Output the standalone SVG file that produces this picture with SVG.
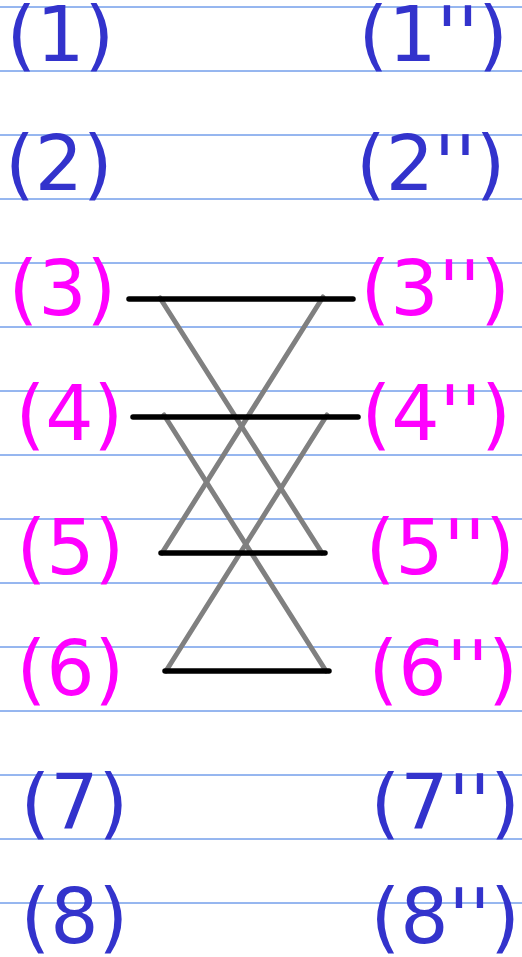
<svg xmlns="http://www.w3.org/2000/svg" width="522" height="957" viewBox="0 0 522 957">
<style>
.rule{stroke:#2f6fe0;stroke-width:1}
.lbl{font-family:"DejaVu Sans",sans-serif;font-size:76px}
.blue{fill:#3333cc}
.mag{fill:#ff00ff}
.bar{stroke:#000;stroke-width:5.5;stroke-linecap:round}
.diag{stroke:#808080;stroke-width:5;stroke-linecap:round}
</style>
<rect width="522" height="957" fill="#fff"/>
<g id="rules">
<line class="rule" x1="0" y1="7" x2="522" y2="7"/>
<line class="rule" x1="0" y1="71" x2="522" y2="71"/>
<line class="rule" x1="0" y1="135" x2="522" y2="135"/>
<line class="rule" x1="0" y1="199" x2="522" y2="199"/>
<line class="rule" x1="0" y1="263" x2="522" y2="263"/>
<line class="rule" x1="0" y1="327" x2="522" y2="327"/>
<line class="rule" x1="0" y1="391" x2="522" y2="391"/>
<line class="rule" x1="0" y1="455" x2="522" y2="455"/>
<line class="rule" x1="0" y1="519" x2="522" y2="519"/>
<line class="rule" x1="0" y1="583" x2="522" y2="583"/>
<line class="rule" x1="0" y1="647" x2="522" y2="647"/>
<line class="rule" x1="0" y1="711" x2="522" y2="711"/>
<line class="rule" x1="0" y1="775" x2="522" y2="775"/>
<line class="rule" x1="0" y1="839" x2="522" y2="839"/>
<line class="rule" x1="0" y1="903" x2="522" y2="903"/>
</g>
<g id="connectors">
<line class="diag" x1="160" y1="298" x2="322" y2="553"/>
<line class="diag" x1="323" y1="297" x2="162" y2="553"/>
<line class="diag" x1="164" y1="415" x2="326" y2="671"/>
<line class="diag" x1="327" y1="415" x2="166" y2="671"/>
<line class="bar" x1="129" y1="299" x2="353" y2="299"/>
<line class="bar" x1="133" y1="417" x2="358" y2="417"/>
<line class="bar" x1="161" y1="553" x2="325" y2="553"/>
<line class="bar" x1="165" y1="671" x2="329" y2="671"/>
</g>
<g id="n1"><text class="lbl blue" x="6.5" y="61">(1)</text></g>
<g id="n2"><text class="lbl blue" x="5" y="190">(2)</text></g>
<g id="n3"><text class="lbl mag" x="8.5" y="315">(3)</text></g>
<g id="n4"><text class="lbl mag" x="15.5" y="440">(4)</text></g>
<g id="n5"><text class="lbl mag" x="16.5" y="574">(5)</text></g>
<g id="n6"><text class="lbl mag" x="16.5" y="695">(6)</text></g>
<g id="n7"><text class="lbl blue" x="20.5" y="829">(7)</text></g>
<g id="n8"><text class="lbl blue" x="20.5" y="943">(8)</text></g>
<g id="m1"><text class="lbl blue" x="358.5" y="61">(1'')</text></g>
<g id="m2"><text class="lbl blue" x="356" y="190">(2'')</text></g>
<g id="m3"><text class="lbl mag" x="360.5" y="315">(3'')</text></g>
<g id="m4"><text class="lbl mag" x="361.5" y="440">(4'')</text></g>
<g id="m5"><text class="lbl mag" x="365.5" y="574">(5'')</text></g>
<g id="m6"><text class="lbl mag" x="368.5" y="695">(6'')</text></g>
<g id="m7"><text class="lbl blue" x="370.5" y="829">(7'')</text></g>
<g id="m8"><text class="lbl blue" x="370.5" y="943">(8'')</text></g>
</svg>
